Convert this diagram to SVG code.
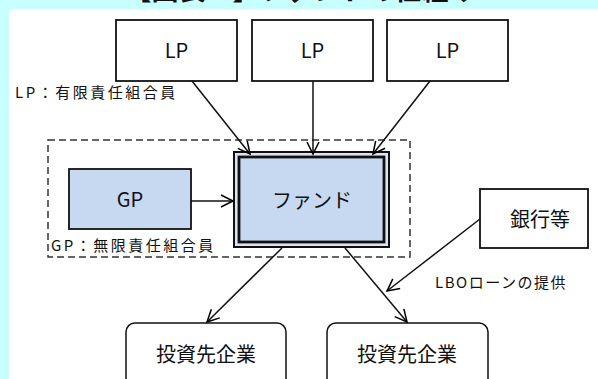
<svg xmlns="http://www.w3.org/2000/svg" width="598" height="379" viewBox="0 0 598 379">
<defs>
<marker id="ah" markerUnits="userSpaceOnUse" markerWidth="16" markerHeight="16" refX="13" refY="7" orient="auto" viewBox="0 0 16 14">
<path d="M1,1 L13,7 L1,13" fill="none" stroke="#000" stroke-width="1.5"/>
</marker>
</defs>
<style>
.t{font-family:"Noto Sans CJK JP","Noto Sans",sans-serif;fill:#111}
.box{fill:#fff;stroke:#111;stroke-width:1.8}
.blue{fill:#c6d9f1;stroke:#111;stroke-width:1.8}
.rbox{fill:#fff;stroke:#111;stroke-width:1.5}
.c{fill:none;stroke:#111;stroke-width:1.5;marker-end:url(#ah)}
.n{font-size:20px;text-anchor:middle}
.lbl{font-size:15px;letter-spacing:2.5px}
</style>
<rect x="0" y="0" width="598" height="379" fill="#c8ffff"/>
<rect x="9" y="9" width="589" height="370" fill="#fff"/>
<text class="t" x="300" y="-0.5" font-size="27" font-weight="bold" text-anchor="middle">【図表１】ファンドの仕組み</text>

<rect id="group-frame" x="48" y="140" width="362" height="117" fill="none" stroke="#333" stroke-width="1.5" stroke-dasharray="7,4"/>

<g id="lp1"><rect class="box" x="116" y="20" width="121" height="61"/><text class="t n" x="176.5" y="58">LP</text></g>
<g id="lp2"><rect class="box" x="252" y="20" width="121" height="61"/><text class="t n" x="312.5" y="58">LP</text></g>
<g id="lp3"><rect class="box" x="387" y="20" width="121" height="61"/><text class="t n" x="447.5" y="58">LP</text></g>
<text class="t lbl" x="15" y="98">LP：有限責任組合員</text>

<g id="gp"><rect class="blue" x="69" y="169" width="122" height="60"/><text class="t n" x="130" y="207">GP</text></g>
<text class="t lbl" x="51" y="251">GP：無限責任組合員</text>

<g id="fund">
<rect x="234" y="152" width="155" height="95" fill="#dbe5f1" stroke="#111" stroke-width="2"/>
<rect x="239" y="157" width="145" height="85" fill="#c6d9f1" stroke="#111" stroke-width="2.8"/>
<text class="t n" x="312" y="208">ファンド</text>
</g>

<g id="bank"><rect class="box" x="480" y="189" width="108" height="59"/><text class="t n" x="540" y="227">銀行等</text></g>
<text class="t lbl" x="435" y="288" style="letter-spacing:1.5px">LBOローンの提供</text>

<g id="co1"><rect class="rbox" x="126" y="323" width="160" height="70" rx="9"/><text class="t n" x="206" y="362">投資先企業</text></g>
<g id="co2"><rect class="rbox" x="327" y="323" width="161" height="70" rx="9"/><text class="t n" x="407" y="362">投資先企業</text></g>

<g id="connectors">
<line class="c" x1="192" y1="81" x2="250" y2="154"/>
<line class="c" x1="313" y1="81" x2="313" y2="154"/>
<line class="c" x1="430" y1="81" x2="373" y2="154"/>
<line class="c" x1="191" y1="201" x2="233" y2="201"/>
<line class="c" x1="282" y1="248" x2="207" y2="322"/>
<line class="c" x1="345" y1="248" x2="407" y2="322"/>
<line class="c" x1="480" y1="219" x2="387" y2="291"/>
</g>
</svg>
